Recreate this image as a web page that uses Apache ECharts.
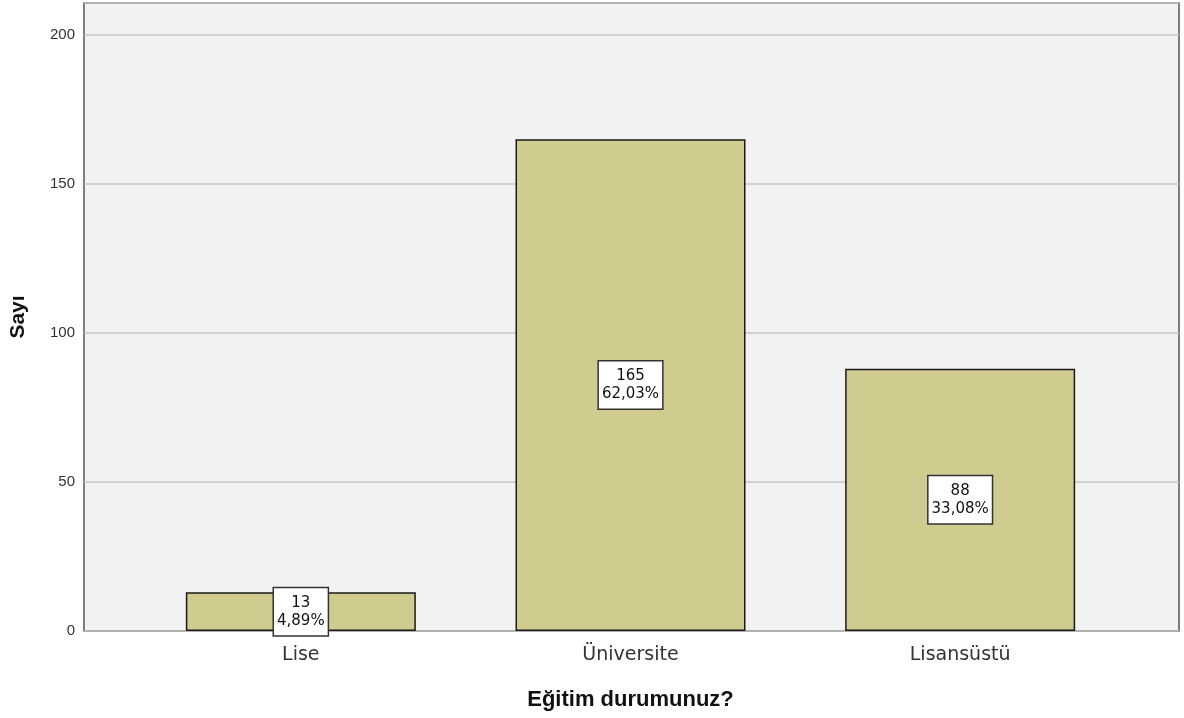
<!DOCTYPE html>
<html>
<head>
<meta charset="utf-8">
<script src="https://cdn.jsdelivr.net/npm/echarts@6/dist/echarts.min.js"></script>
<style>
  html, body { margin: 0; padding: 0; background: #ffffff; }
  #main { width: 1184px; height: 718px; }
</style>
</head>
<body>
<div id="main"></div>
<script>
// kategoriler ve sayılar
var categories = ['Lise', 'Üniversite', 'Lisansüstü'];
var counts = [13, 165, 88];
var percents = ['4,89%', '62,03%', '33,08%'];
var yMax = 210.7;

var chart = echarts.init(document.getElementById('main'));

var option = {
  backgroundColor: '#ffffff',
  animation: false,
  grid: [
    // arka plan + çerçeve
    {
      left: 82, right: 5, top: 3, bottom: 87,
      show: true,
      backgroundColor: '#f2f2f2',
      borderColor: '#555555',
      borderWidth: 1.5
    },
    // çubuklar
    { left: 136, right: 59, top: 3, bottom: 87 }
  ],
  xAxis: [
    {
      gridIndex: 0, type: 'value', min: 0, max: 1,
      show: false
    },
    {
      gridIndex: 1, type: 'category', data: categories,
      axisLine: { show: false },
      axisTick: { show: false },
      axisLabel: {
        color: '#333333', fontSize: 19, margin: 15,
        fontFamily: 'DejaVu Sans'
      },
      name: 'Eğitim durumunuz?',
      nameLocation: 'middle',
      nameGap: 58,
      nameTextStyle: {
        color: '#111111', fontSize: 22, fontWeight: 'bold',
        fontFamily: 'Liberation Sans'
      }
    }
  ],
  yAxis: [
    {
      gridIndex: 0, type: 'value', min: 0, max: yMax, interval: 50,
      axisLine: { show: false },
      axisTick: { show: false },
      axisLabel: {
        color: '#333333', fontSize: 15, margin: 9, showMaxLabel: false,
        fontFamily: 'Liberation Sans'
      },
      splitLine: { lineStyle: { color: '#c4c4c4', width: 1.5 } },
      name: 'Sayı',
      nameLocation: 'middle',
      nameGap: 55,
      nameTextStyle: {
        color: '#111111', fontSize: 21, fontWeight: 'bold',
        fontFamily: 'Liberation Sans'
      }
    },
    {
      gridIndex: 1, type: 'value', min: 0, max: yMax, interval: 50,
      show: false
    }
  ],
  series: [
    {
      type: 'bar',
      xAxisIndex: 1,
      yAxisIndex: 1,
      barWidth: 230,
      data: counts,
      itemStyle: {
        color: '#d0cb8f',
        borderColor: '#1a1a1a',
        borderWidth: 1.5
      },
      label: {
        show: true,
        position: 'inside',
        formatter: function (p) {
          return p.value + '\n' + percents[p.dataIndex];
        },
        color: '#111111',
        fontSize: 15,
        lineHeight: 18,
        fontFamily: 'DejaVu Sans',
        backgroundColor: '#ffffff',
        borderColor: '#333333',
        borderWidth: 1.5,
        padding: [6, 3, 5, 3]
      }
    }
  ]
};

chart.setOption(option);
</script>
</body>
</html>
